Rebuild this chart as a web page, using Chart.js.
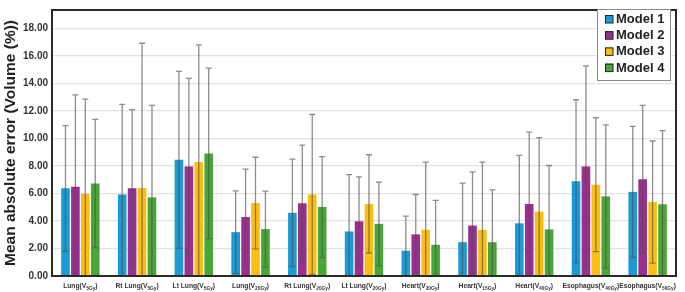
<!DOCTYPE html>
<html>
<head>
<meta charset="utf-8">
<script src="https://cdn.jsdelivr.net/npm/chart.js@4.4.1/dist/chart.umd.min.js"></script>
<style>
  html, body { margin: 0; padding: 0; background: #fff; }
  #wrap { width: 685px; height: 292px; position: relative; }
</style>
</head>
<body>
<div id="wrap"><canvas id="maeChart"></canvas></div>
<script>
// categorias: órgão + dose (a dose vai em subscrito)
const categoryOrgans = ['Lung', 'Rt Lung', 'Lt Lung', 'Lung', 'Rt Lung', 'Lt Lung', 'Heart', 'Heart', 'Heart', 'Esophagus', 'Esophagus'];
const categoryDoses = ['5Gy', '5Gy', '5Gy', '20Gy', '20Gy', '20Gy', '30Gy', '15Gy', '40Gy', '40Gy', '50Gy'];

const modelNames = ['Model 1', 'Model 2', 'Model 3', 'Model 4'];
const modelColors = ['#1c9ad6', '#9a2f8f', '#fbbf12', '#4aa538'];

// médias
const model1Mean = [6.38, 5.93, 8.45, 3.19, 4.60, 3.24, 1.84, 2.46, 3.83, 6.90, 6.12];
const model2Mean = [6.50, 6.38, 7.97, 4.29, 5.29, 3.98, 3.03, 3.67, 5.24, 7.97, 7.04];
const model3Mean = [5.97, 6.40, 8.30, 5.31, 5.93, 5.24, 3.36, 3.36, 4.69, 6.64, 5.38];
const model4Mean = [6.73, 5.72, 8.92, 3.41, 5.02, 3.79, 2.27, 2.46, 3.39, 5.79, 5.22];

// desvios (barras de erro)
const model1Sd = [4.56, 6.56, 6.43, 3.00, 3.90, 4.14, 2.52, 4.30, 4.95, 5.92, 4.77];
const model2Sd = [6.67, 5.72, 6.41, 3.49, 4.23, 3.23, 2.90, 3.90, 5.22, 7.32, 5.37];
const model3Sd = [6.89, 10.53, 8.51, 3.33, 5.82, 3.58, 4.92, 4.92, 5.37, 4.87, 4.44];
const model4Sd = [4.66, 6.69, 6.20, 2.76, 3.66, 3.04, 3.23, 3.80, 4.65, 5.20, 5.36];

const yTicks = [0, 2, 4, 6, 8, 10, 12, 14, 16, 18];

const means = [model1Mean, model2Mean, model3Mean, model4Mean];
const sds = [model1Sd, model2Sd, model3Sd, model4Sd];
const labels = categoryOrgans.map((o, i) => o + '(V' + categoryDoses[i] + ')');

const FONT = '"Liberation Sans", Arial, sans-serif';

// barras de erro
const errorBars = {
    id: 'errorBars',
    afterDatasetsDraw(chart) {
        const ctx = chart.ctx;
        const y = chart.scales.y;
        const area = chart.chartArea;
        ctx.save();
        ctx.strokeStyle = 'rgba(80,80,80,0.65)';
        ctx.lineWidth = 1.3;
        chart.data.datasets.forEach((ds, di) => {
            const meta = chart.getDatasetMeta(di);
            meta.data.forEach((bar, i) => {
                const m = ds.data[i];
                const s = ds.sd[i];
                const hi = y.getPixelForValue(m + s);
                const loVal = m - s;
                const lo = loVal > 0 ? y.getPixelForValue(loVal) : area.bottom;
                ctx.beginPath();
                ctx.moveTo(bar.x, lo);
                ctx.lineTo(bar.x, hi);
                ctx.moveTo(bar.x - 3, hi);
                ctx.lineTo(bar.x + 3, hi);
                if (loVal > 0) {
                    ctx.moveTo(bar.x - 3, lo);
                    ctx.lineTo(bar.x + 3, lo);
                }
                ctx.stroke();
            });
        });
        ctx.restore();
    }
};

// moldura, rótulos do eixo x com subscrito e legenda
const decorations = {
    id: 'decorations',
    afterDraw(chart) {
        const ctx = chart.ctx;
        const area = chart.chartArea;
        const xs = chart.scales.x;
        ctx.save();

        ctx.strokeStyle = '#2a2a2a';
        ctx.lineWidth = 2;
        ctx.strokeRect(area.left, area.top, area.right - area.left, area.bottom - area.top);

        // rótulos do eixo x
        ctx.fillStyle = '#333';
        ctx.textBaseline = 'alphabetic';
        categoryOrgans.forEach((organ, i) => {
            const main = organ + '(V';
            const sub = categoryDoses[i];
            ctx.font = 'bold 6.7px ' + FONT;
            const w1 = ctx.measureText(main).width;
            const w3 = ctx.measureText(')').width;
            ctx.font = 'bold 4.8px ' + FONT;
            const w2 = ctx.measureText(sub).width;
            const cx = xs.getPixelForValue(i);
            let x = cx - (w1 + w2 + w3) / 2;
            const base = 288;
            ctx.textAlign = 'left';
            ctx.font = 'bold 6.7px ' + FONT;
            ctx.fillText(main, x, base);
            x += w1;
            ctx.font = 'bold 4.8px ' + FONT;
            ctx.fillText(sub, x, base + 1.5);
            x += w2;
            ctx.font = 'bold 6.7px ' + FONT;
            ctx.fillText(')', x, base);
        });

        // legenda
        const lx = 597, ly = 9, lw = 73, lh = 71;
        ctx.fillStyle = '#fff';
        ctx.fillRect(lx, ly, lw, lh);
        ctx.strokeStyle = '#8a8a8a';
        ctx.lineWidth = 1;
        ctx.strokeRect(lx + 0.5, ly + 0.5, lw, lh);
        chart.data.datasets.forEach((ds, i) => {
            const cy = 19 + i * 16.2;
            ctx.fillStyle = ds.backgroundColor;
            ctx.fillRect(605, cy - 4, 8, 8);
            ctx.strokeStyle = '#222';
            ctx.lineWidth = 1;
            ctx.strokeRect(605.5, cy - 3.5, 7.5, 7.5);
            ctx.fillStyle = '#222';
            ctx.font = 'bold 13px ' + FONT;
            ctx.textAlign = 'left';
            ctx.textBaseline = 'middle';
            ctx.fillText(ds.label, 616, cy + 0.5);
        });
        ctx.restore();
    }
};

new Chart(document.getElementById('maeChart'), {
    type: 'bar',
    data: {
        labels: labels,
        datasets: modelNames.map((name, i) => ({
            label: name,
            data: means[i],
            sd: sds[i],
            backgroundColor: modelColors[i],
            borderWidth: 0,
            categoryPercentage: 0.7,
            barPercentage: 0.87
        }))
    },
    options: {
        responsive: true,
        maintainAspectRatio: false,
        animation: false,
        layout: { padding: { top: 5, right: 9, left: 0, bottom: 0 } },
        plugins: {
            legend: { display: false },
            tooltip: { enabled: false }
        },
        scales: {
            x: {
                grid: { display: false },
                border: { display: false },
                ticks: { display: false },
                afterFit(scale) { scale.height = 16; }
            },
            y: {
                min: 0,
                max: 19.35,
                afterBuildTicks(scale) {
                    scale.ticks = yTicks.map(v => ({ value: v }));
                },
                afterFit(scale) { scale.width = 52; },
                grid: { color: '#e2e2e2', lineWidth: 1.2, drawTicks: false },
                border: { display: false },
                ticks: {
                    padding: 4,
                    color: '#333',
                    font: { family: FONT, size: 10, weight: 'bold' },
                    callback: v => Number(v).toFixed(2)
                },
                title: {
                    display: true,
                    text: 'Mean absolute error (Volume (%))',
                    color: '#222',
                    padding: { top: 1, bottom: 0 },
                    font: { family: FONT, size: 15.5, weight: 'bold' }
                }
            }
        }
    },
    plugins: [errorBars, decorations]
});
</script>
</body>
</html>
